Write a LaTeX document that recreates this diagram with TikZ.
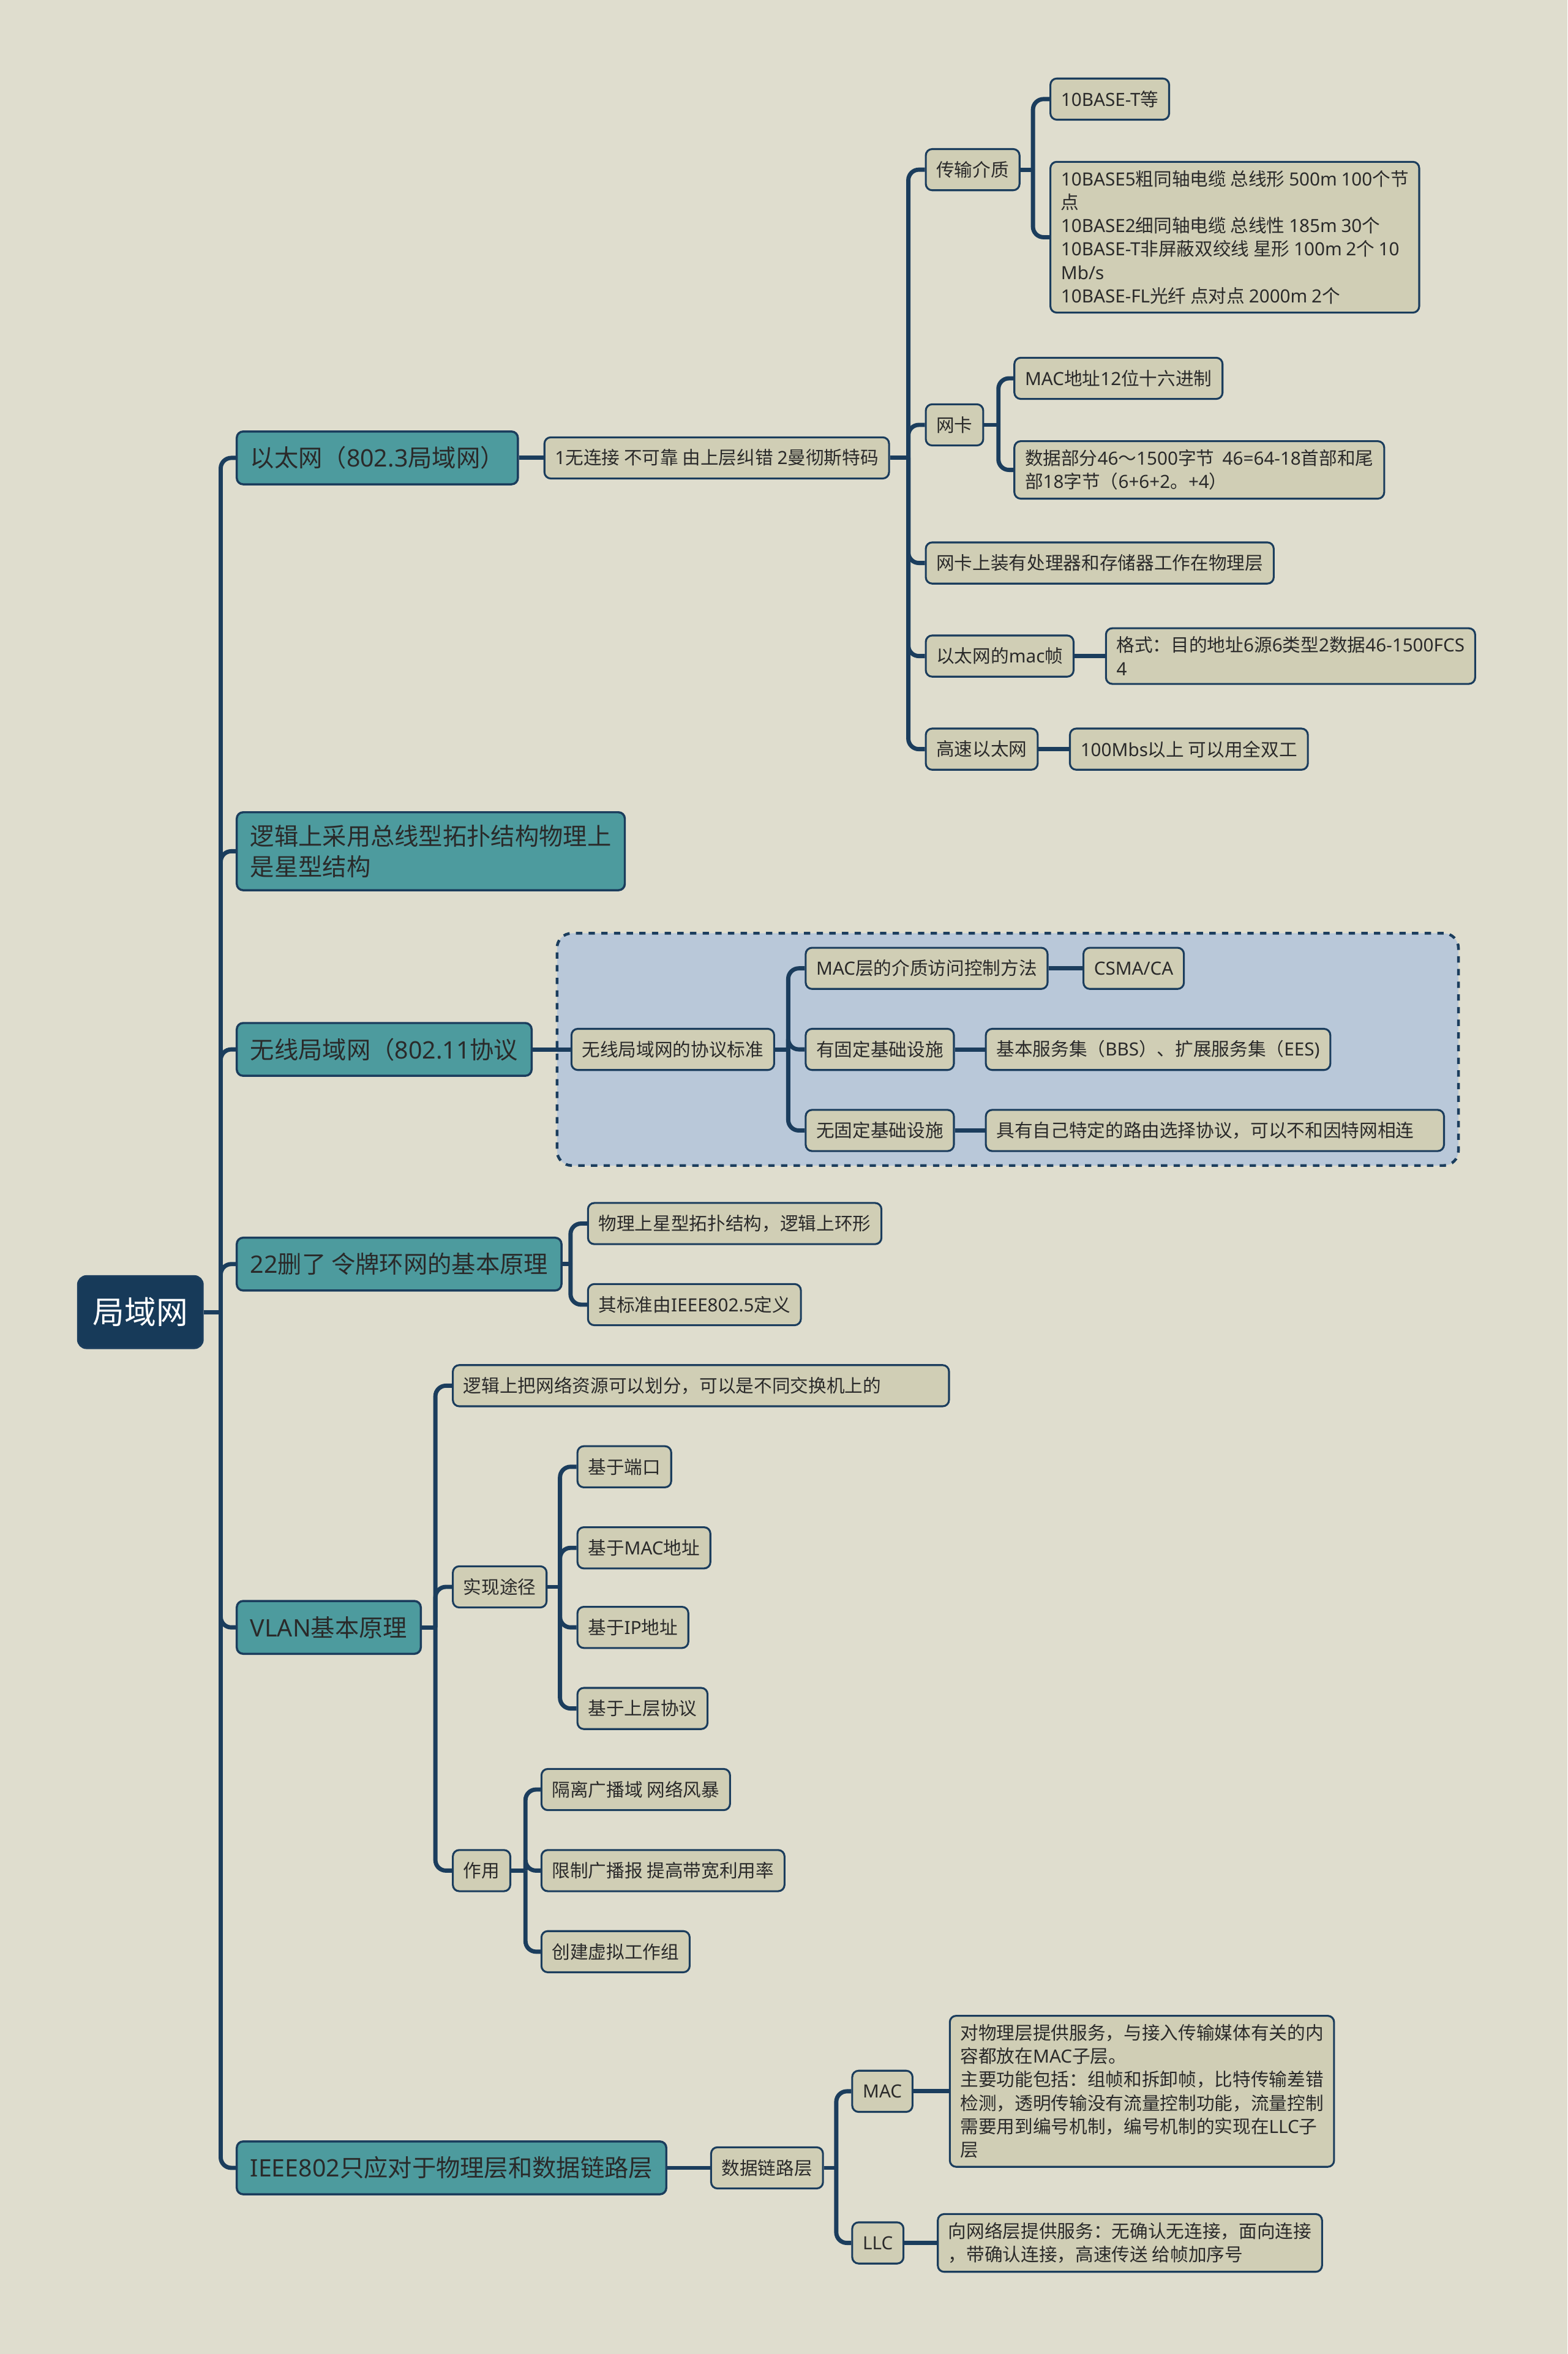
\documentclass[tikz,border=0pt]{standalone}
\usepackage{fontspec}
\setmainfont{Noto Sans CJK SC}
\newfontfamily\latinfont{Noto Sans}
% latin runs in a wider latin face
\XeTeXinterchartokenstate=1
\newXeTeXintercharclass\latincls
\count255="21
\loop \XeTeXcharclass\count255=\latincls \advance\count255 by 1 \ifnum\count255<"7F \repeat
\XeTeXinterchartoks 0 \latincls = {\begingroup\latinfont}
\XeTeXinterchartoks 4095 \latincls = {\begingroup\latinfont}
\XeTeXinterchartoks \latincls 0 = {\endgroup}
\XeTeXinterchartoks \latincls 4095 = {\endgroup}
\usetikzlibrary{positioning,fit,backgrounds}
\definecolor{bgcol}{HTML}{DFDDCE}
\definecolor{leafcol}{HTML}{D0CEB5}
\definecolor{topiccol}{HTML}{4D9B9E}
\definecolor{rootcol}{HTML}{173A59}
\definecolor{linecol}{HTML}{1B3D5D}
\definecolor{groupcol}{HTML}{B9C8D9}
\definecolor{inkcol}{HTML}{2A2A2A}
\tikzset{
  root/.style={rectangle, rounded corners=4pt, draw=linecol, line width=1pt, fill=rootcol, text=white, font=\fontsize{15}{18}\selectfont, minimum height=34pt, inner xsep=7pt},
  topic/.style={rectangle, rounded corners=3pt, draw=linecol, line width=1pt, fill=topiccol, text=inkcol, font=\fontsize{11.4}{14.4}\selectfont, minimum height=25pt, inner xsep=6.4pt, inner ysep=6pt, align=left},
  leaf/.style={rectangle, rounded corners=3pt, draw=linecol, line width=0.9pt, fill=leafcol, text=inkcol, font=\fontsize{8.6}{11.1}\selectfont, minimum height=19.5pt, inner xsep=5pt, inner ysep=4pt, align=left},
  link/.style={draw=linecol, line width=2pt, rounded corners=5pt},
  group/.style={draw=linecol, dashed, line width=1.3pt, fill=groupcol, rounded corners=7pt, inner sep=6.4pt}
}
\begin{document}
\begin{tikzpicture}[x=0.025cm, y=-0.025cm]
  \begin{scope}[on background layer]
    \fill[bgcol] (0,0) rectangle (1044,1568);
  \end{scope}
  \useasboundingbox (0,0) rectangle (1044,1568);
  % root and main topics
  \node[root] (lan) at (93.5,874) {局域网};
  \node[topic, anchor=west] (eth) at (157,305) {以太网（802.3局域网）};
  \node[topic, anchor=west] (bus) at (157,567) {逻辑上采用总线型拓扑结构物理上\\是星型结构};
  \node[topic, anchor=west] (wlan) at (157,699) {无线局域网（802.11协议};
  \node[topic, anchor=west] (ring) at (157,842) {22删了 令牌环网的基本原理};
  \node[topic, anchor=west] (vlan) at (157,1084) {VLAN基本原理};
  \node[topic, anchor=west] (ieee) at (157,1444) {IEEE802只应对于物理层和数据链路层};
  % ethernet
  \node[leaf, anchor=west] (ethfeat) at (362,305) {1无连接 不可靠 由上层纠错 2曼彻斯特码};
  \node[leaf, anchor=west] (media) at (616,113) {传输介质};
  \node[leaf, anchor=west] (tenbt) at (699,66) {10BASE-T等};
  \node[leaf, anchor=west] (cables) at (699,158) {10BASE5粗同轴电缆 总线形 500m 100个节\\点\\10BASE2细同轴电缆 总线性 185m 30个\\10BASE-T非屏蔽双绞线 星形 100m 2个 10\\Mb/s\\10BASE-FL光纤 点对点 2000m 2个};
  \node[leaf, anchor=west] (nic) at (616,283) {网卡};
  \node[leaf, anchor=west] (macaddr) at (675,252) {MAC地址12位十六进制};
  \node[leaf, anchor=west] (frame) at (675,313) {数据部分46～1500字节\ \ 46=64-18首部和尾\\部18字节（6+6+2。+4）};
  \node[leaf, anchor=west] (nichw) at (616,375) {网卡上装有处理器和存储器工作在物理层};
  \node[leaf, anchor=west] (macfr) at (616,437) {以太网的mac帧};
  \node[leaf, anchor=west] (fmt) at (736,437) {格式：目的地址6源6类型2数据46-1500FCS\\4};
  \node[leaf, anchor=west] (fast) at (616,499) {高速以太网};
  \node[leaf, anchor=west] (duplex) at (712,499) {100Mbs以上 可以用全双工};
  % wireless
  \node[leaf, anchor=west] (std) at (380,699) {无线局域网的协议标准};
  \node[leaf, anchor=west] (macctl) at (536,645) {MAC层的介质访问控制方法};
  \node[leaf, anchor=west] (csma) at (721,645) {CSMA/CA};
  \node[leaf, anchor=west] (infra) at (536,699) {有固定基础设施};
  \node[leaf, anchor=west] (bss) at (656,699) {基本服务集（BBS）、扩展服务集（EES)};
  \node[leaf, anchor=west] (adhoc) at (536,753) {无固定基础设施};
  \node[leaf, anchor=west, text width=207pt] (route) at (656,753) {具有自己特定的路由选择协议，可以不和因特网相连};
  \begin{scope}[on background layer]
    \node[group, fit=(std) (macctl) (csma) (infra) (bss) (adhoc) (route)] (wlgroup) {};
  \end{scope}
  % token ring
  \node[leaf, anchor=west] (star) at (391,815) {物理上星型拓扑结构，逻辑上环形};
  \node[leaf, anchor=west] (ieee5) at (391,869) {其标准由IEEE802.5定义};
  % vlan
  \node[leaf, anchor=west, text width=225pt] (split) at (301,923) {逻辑上把网络资源可以划分，可以是不同交换机上的};
  \node[leaf, anchor=west] (way) at (301,1057) {实现途径};
  \node[leaf, anchor=west] (port) at (384,977) {基于端口};
  \node[leaf, anchor=west] (bymac) at (384,1031) {基于MAC地址};
  \node[leaf, anchor=west] (byip) at (384,1084) {基于IP地址};
  \node[leaf, anchor=west] (byproto) at (384,1138) {基于上层协议};
  \node[leaf, anchor=west] (use) at (301,1246) {作用};
  \node[leaf, anchor=west] (iso) at (360,1192) {隔离广播域 网络风暴};
  \node[leaf, anchor=west] (limit) at (360,1246) {限制广播报 提高带宽利用率};
  \node[leaf, anchor=west] (vgroup) at (360,1300) {创建虚拟工作组};
  % ieee 802
  \node[leaf, anchor=west] (dll) at (473,1444) {数据链路层};
  \node[leaf, anchor=west] (mac) at (567,1393) {MAC};
  \node[leaf, anchor=west] (macdesc) at (632,1393) {对物理层提供服务，与接入传输媒体有关的内\\容都放在MAC子层。\\主要功能包括：组帧和拆卸帧，比特传输差错\\检测，透明传输没有流量控制功能，流量控制\\需要用到编号机制，编号机制的实现在LLC子\\层};
  \node[leaf, anchor=west] (llc) at (567,1494) {LLC};
  \node[leaf, anchor=west] (llcdesc) at (624,1494) {向网络层提供服务：无确认无连接，面向连接\\，带确认连接，高速传送 给帧加序号};
  % junctions
  \coordinate (j0) at (147,874);
  \coordinate (j1) at (605,305);
  \coordinate (j2) at (688,113);
  \coordinate (j3) at (665,283);
  \coordinate (j4) at (525,699);
  \coordinate (j5) at (380,842);
  \coordinate (j6) at (290,1084);
  \coordinate (j7) at (373,1057);
  \coordinate (j8) at (350,1246);
  \coordinate (j9) at (557,1444);
  % connectors
  \draw[link] (lan) -- (j0);
  \draw[link] (j0) |- (eth); \draw[link] (j0) |- (bus); \draw[link] (j0) |- (wlan);
  \draw[link] (j0) |- (ring); \draw[link] (j0) |- (vlan); \draw[link] (j0) |- (ieee);
  \draw[link] (eth) -- (ethfeat); \draw[link] (ethfeat) -- (j1);
  \draw[link] (j1) |- (media); \draw[link] (j1) |- (nic); \draw[link] (j1) |- (nichw);
  \draw[link] (j1) |- (macfr); \draw[link] (j1) |- (fast);
  \draw[link] (media) -- (j2); \draw[link] (j2) |- (tenbt); \draw[link] (j2) |- (cables);
  \draw[link] (nic) -- (j3); \draw[link] (j3) |- (macaddr); \draw[link] (j3) |- (frame);
  \draw[link] (macfr) -- (fmt); \draw[link] (fast) -- (duplex);
  \draw[link] (wlan) -- (std); \draw[link] (std) -- (j4);
  \draw[link] (j4) |- (macctl); \draw[link] (j4) |- (infra); \draw[link] (j4) |- (adhoc);
  \draw[link] (macctl) -- (csma); \draw[link] (infra) -- (bss); \draw[link] (adhoc) -- (route);
  \draw[link] (ring) -- (j5); \draw[link] (j5) |- (star); \draw[link] (j5) |- (ieee5);
  \draw[link] (vlan) -- (j6); \draw[link] (j6) |- (split); \draw[link] (j6) |- (way); \draw[link] (j6) |- (use);
  \draw[link] (way) -- (j7); \draw[link] (j7) |- (port); \draw[link] (j7) |- (bymac);
  \draw[link] (j7) |- (byip); \draw[link] (j7) |- (byproto);
  \draw[link] (use) -- (j8); \draw[link] (j8) |- (iso); \draw[link] (j8) |- (limit); \draw[link] (j8) |- (vgroup);
  \draw[link] (ieee) -- (dll); \draw[link] (dll) -- (j9);
  \draw[link] (j9) |- (mac); \draw[link] (j9) |- (llc);
  \draw[link] (mac) -- (macdesc); \draw[link] (llc) -- (llcdesc);
\end{tikzpicture}
\end{document}
